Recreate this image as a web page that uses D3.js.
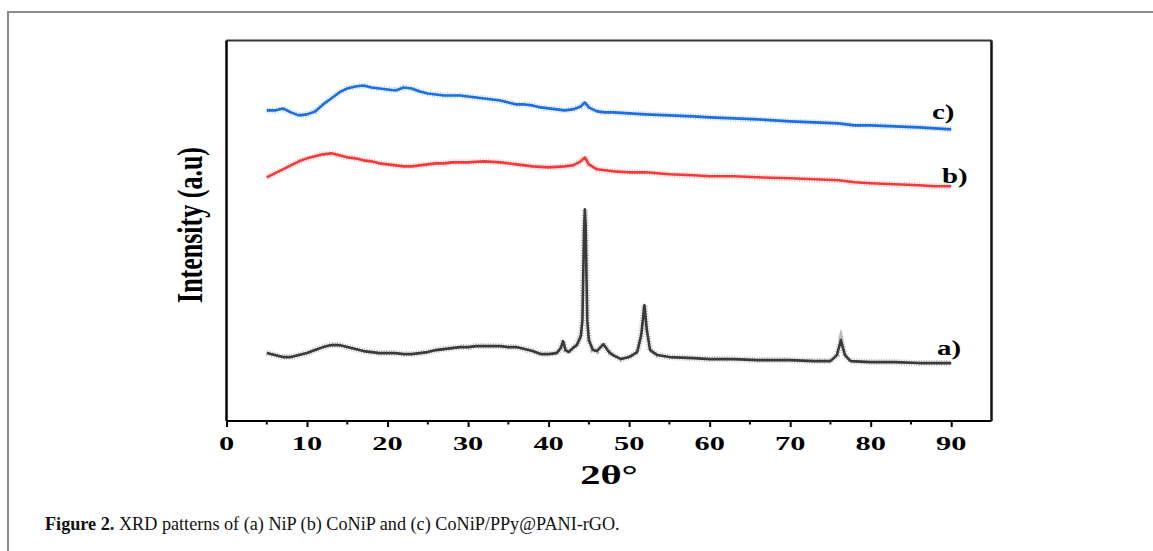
<!DOCTYPE html>
<html>
<head>
<meta charset="utf-8">
<script src="https://cdn.jsdelivr.net/npm/d3@7"></script>
<style>
  body { margin: 0; background: #fff; }
  svg { display: block; }
</style>
</head>
<body>
<div id="chart-container"></div>
<script>
// 2theta positions (deg) and intensities (a.u.)
const twoThetaC = [5,6,7,8,9,10,11,12,13,14,15,16,17,18,19,20,21,22,23,24,25,26,27,28,29,30,31,32,33,34,35,36,37,38,39,40,41,42,43,44,44.5,45,46,47,48,50,52,55,58,60,63,66,70,73,76,78,80,83,86,88,90];
const intensityC = [311,311,313,309,306,307,310,317,323,329,333,335,336,334,333,332,331,334,333,330,328,327,326,326,326,325,324,323,322,321,319,317,317,316,314,313,312,311,312,315,319,314,310,309,309,308,307,306,305,304,303,302,300,299,298,296,296,295,294,293,292];

const twoThetaB = [5,6,7,8,9,10,11,12,13,14,15,16,17,18,19,20,21,22,23,24,25,26,27,28,29,30,32,34,36,38,40,42,43,44,44.5,45,46,48,50,52,55,58,60,63,66,70,73,76,78,80,83,86,88,90];
const intensityB = [244,248,252,256,260,263,265,267,268,266,264,263,261,260,258,257,256,255,255,256,257,258,258,259,259,259,260,259,257,255,254,255,256,260,264,257,252,250,249,249,247,246,245,245,244,243,242,241,239,238,237,236,235,235];

const twoThetaA = [5,6,7,8,9,10,11,12,13,14,15,16,17,18,19,20,21,22,23,24,25,26,27,28,29,30,31,32,33,34,35,36,37,38,39,40,41,41.5,41.8,42.1,42.5,43,43.5,44,44.2,44.4,44.5,44.6,44.8,45,45.5,46,46.8,47.5,48,49,50,51,51.5,51.9,52.2,52.6,53.5,55,58,60,63,66,70,73,75,75.8,76.3,76.8,77.5,80,83,86,88,90];
const intensityA = [68,66,64,64,66,68,71,74,76,76,74,72,70,69,68,68,68,67,67,68,69,71,72,73,74,74,75,75,75,75,74,74,72,70,67,67,68,73,80,71,69,73,76,85,101,191,212,196,101,81,71,70,77,69,66,62,64,69,86,116,91,71,66,64,63,62,62,61,61,60,60,66,81,66,60,59,59,58,58,58];

const xTicks = [0, 10, 20, 30, 40, 50, 60, 70, 80, 90];
const xMinorTicks = [5, 15, 25, 35, 45, 55, 65, 75, 85];

const width = 1153;
const height = 551;
const margin = { top: 40.5, right: 161.5, bottom: 130, left: 226.5 };
const plotW = width - margin.left - margin.right;
const plotH = height - margin.top - margin.bottom;

const svg = d3.select("#chart-container")
    .append("svg")
    .attr("width", width)
    .attr("height", height);

// outer figure frame (grey)
svg.append("path")
    .attr("d", "M8,551 V12 H1153")
    .attr("fill", "none")
    .attr("stroke", "#8c8c8c")
    .attr("stroke-width", 2);

const g = svg.append("g")
    .attr("transform", `translate(${margin.left},${margin.top})`);

const xScale = d3.scaleLinear()
    .domain([0, 95])
    .range([0, plotW]);

const yScale = d3.scaleLinear()
    .domain([0, 381])
    .range([plotH, 0]);

const serif = "'Liberation Serif', 'Times New Roman', serif";

// frame of the plot
g.append("line").attr("x1", 0).attr("x2", plotW).attr("y1", 0).attr("y2", 0)
    .attr("stroke", "#333").attr("stroke-width", 2);
g.append("line").attr("x1", 0).attr("x2", 0).attr("y1", 0).attr("y2", plotH)
    .attr("stroke", "#000").attr("stroke-width", 2.5);
g.append("line").attr("x1", plotW).attr("x2", plotW).attr("y1", 0).attr("y2", plotH)
    .attr("stroke", "#111").attr("stroke-width", 2.5);

// X axis
const xAxis = g.append("g")
    .attr("transform", `translate(0, ${plotH})`)
    .call(d3.axisBottom(xScale).tickValues(xTicks).tickSize(6).tickFormat(""));
xAxis.select(".domain").attr("stroke", "#000").attr("stroke-width", 2).attr("d", `M0,0H${plotW}`);
xAxis.selectAll(".tick line").attr("stroke", "#000").attr("stroke-width", 2);

g.append("g")
    .attr("transform", `translate(0, ${plotH})`)
    .selectAll("line")
    .data(xMinorTicks)
    .enter()
    .append("line")
    .attr("x1", d => xScale(d))
    .attr("x2", d => xScale(d))
    .attr("y1", 0)
    .attr("y2", 3.5)
    .attr("stroke", "#000")
    .attr("stroke-width", 2);

// tick labels (figure is horizontally stretched, so scale the glyphs)
g.append("g")
    .selectAll("text")
    .data(xTicks)
    .enter()
    .append("text")
    .attr("transform", d => `translate(${xScale(d)}, ${plotH + 29}) scale(1.6,1)`)
    .attr("text-anchor", "middle")
    .style("font-family", serif)
    .style("font-weight", "bold")
    .style("font-size", "19px")
    .text(d => d);

g.append("text")
    .attr("transform", `translate(${plotW / 2}, ${plotH + 63}) scale(1.45,1)`)
    .attr("text-anchor", "middle")
    .style("font-family", serif)
    .style("font-weight", "bold")
    .style("font-size", "28px")
    .text("2θ°");

g.append("text")
    .attr("transform", `translate(${193 - margin.left + 9}, ${225 - margin.top}) scale(1.4,1) rotate(-90)`)
    .attr("text-anchor", "middle")
    .style("font-family", serif)
    .style("font-weight", "bold")
    .style("font-size", "26px")
    .text("Intensity (a.u)");

// curves
const series = [
    { name: "a)", x: twoThetaA, y: intensityA, color: "#3a3a3a", lx: 937, ly: 355 },
    { name: "b)", x: twoThetaB, y: intensityB, color: "#f23a3c", lx: 942, ly: 183 },
    { name: "c)", x: twoThetaC, y: intensityC, color: "#1e6fdc", lx: 932, ly: 119 }
];

const line = d3.line()
    .x(d => xScale(d[0]))
    .y(d => yScale(d[1]));

series.forEach(s => {
    const pts = s.x.map((v, i) => [v, s.y[i]]);
    // fuzzy band for the noisy look
    g.append("path")
        .datum(pts)
        .attr("d", line)
        .attr("fill", "none")
        .attr("stroke", s.color)
        .attr("stroke-width", 6)
        .attr("stroke-dasharray", "1,1.5")
        .attr("opacity", 0.35);
    g.append("path")
        .datum(pts)
        .attr("d", line)
        .attr("fill", "none")
        .attr("stroke", s.color)
        .attr("stroke-width", 2.6)
        .attr("stroke-linejoin", "round");

    svg.append("text")
        .attr("transform", `translate(${s.lx}, ${s.ly}) scale(1.45,1)`)
        .style("font-family", serif)
        .style("font-weight", "bold")
        .style("font-size", "20px")
        .text(s.name);
});

// caption
const caption = svg.append("text")
    .attr("x", 45)
    .attr("y", 530)
    .style("font-family", serif)
    .style("font-size", "18.2px")
    .attr("fill", "#111");
caption.append("tspan").style("font-weight", "bold").text("Figure 2.");
caption.append("tspan").text(" XRD patterns of (a) NiP (b) CoNiP and (c) CoNiP/PPy@PANI-rGO.");
</script>
</body>
</html>
